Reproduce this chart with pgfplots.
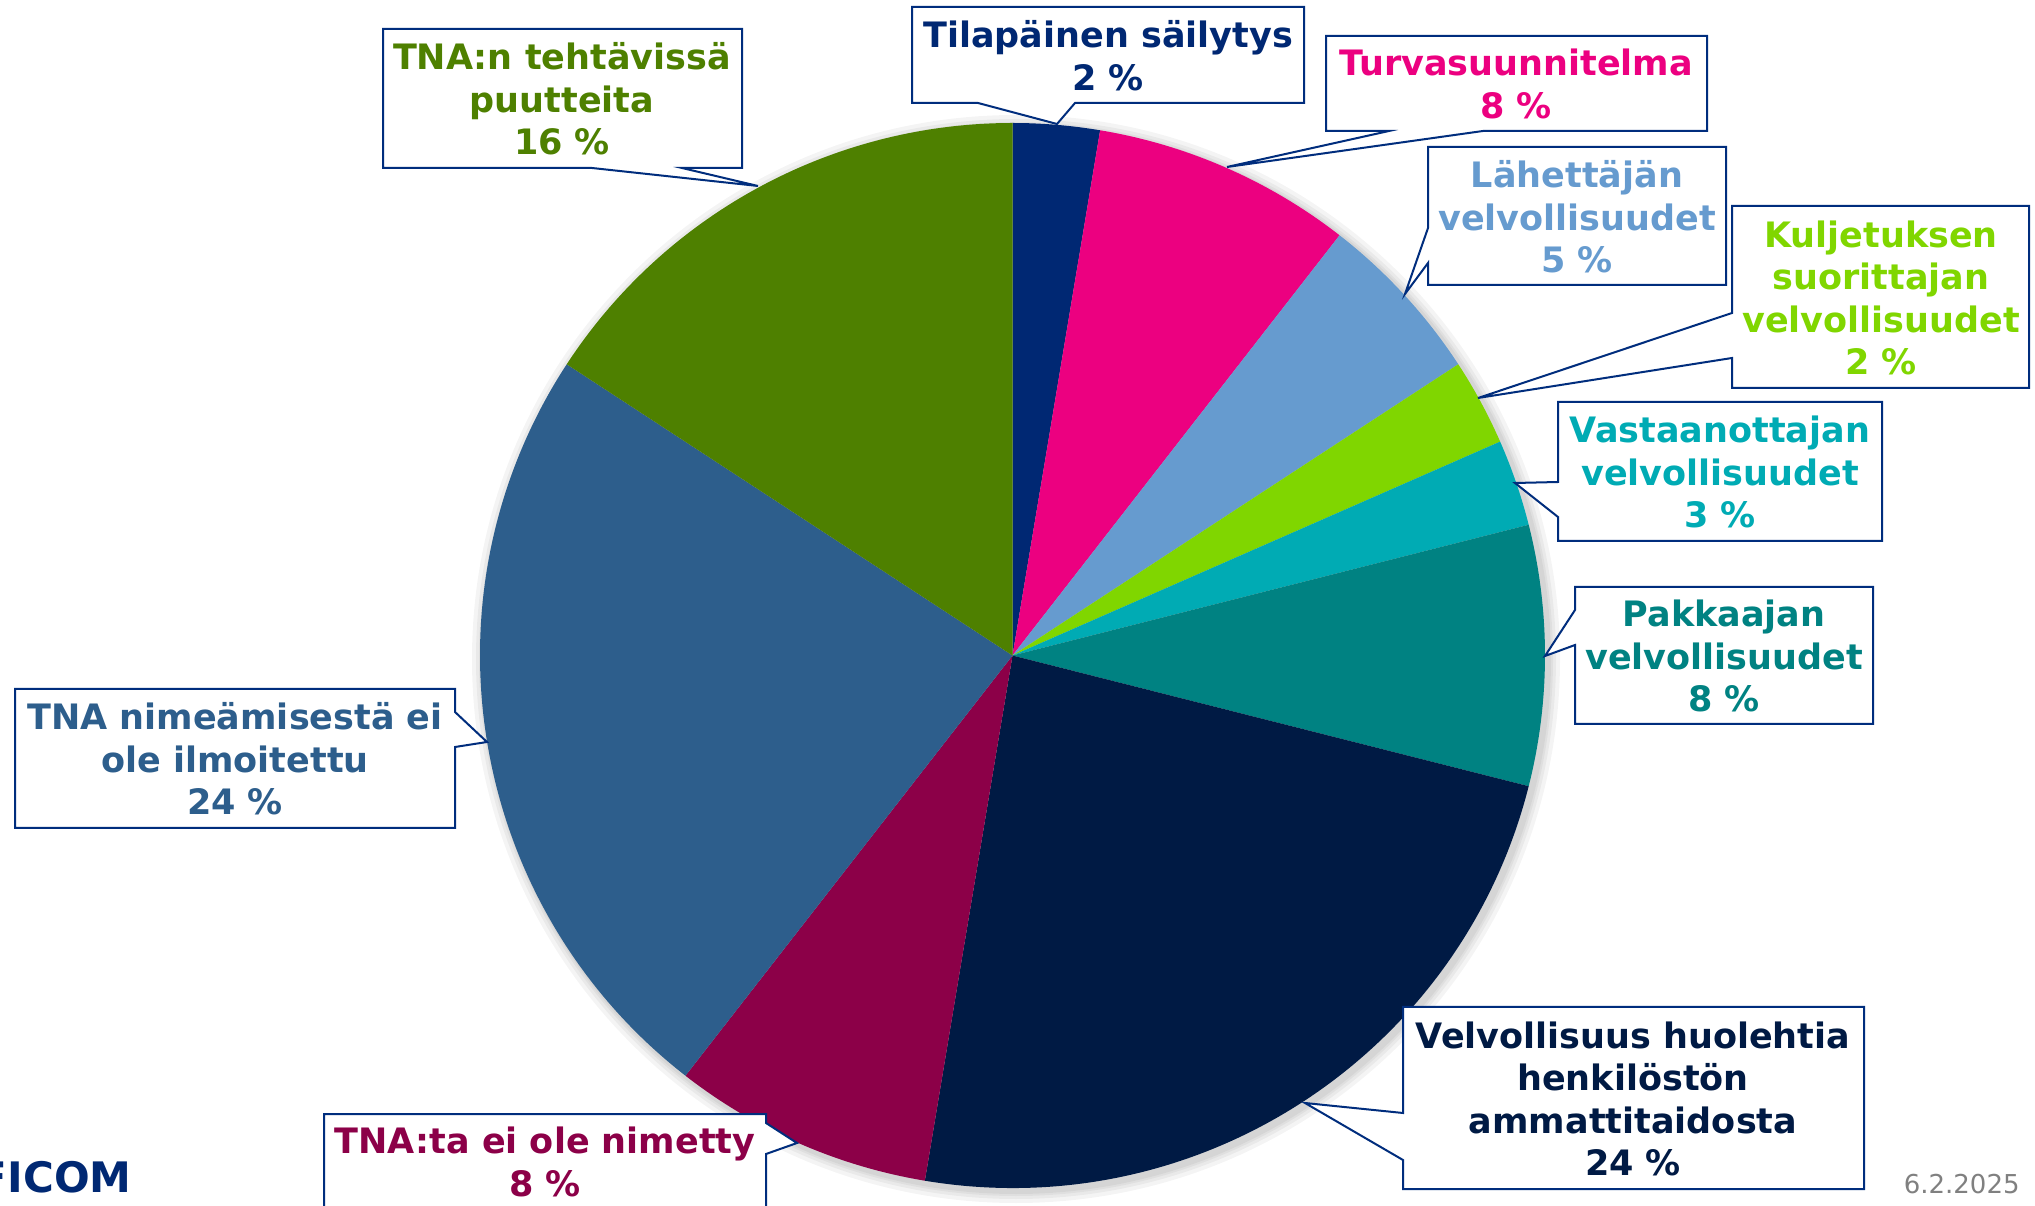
\documentclass[border=0pt]{standalone}
\usepackage{fontspec}
\setmainfont{DejaVu Sans}
\usepackage{pgfplots}
\pgfplotsset{compat=1.18}
\definecolor{c1}{RGB}{0,40,115}
\definecolor{c2}{RGB}{236,0,128}
\definecolor{c3}{RGB}{102,155,207}
\definecolor{c4}{RGB}{128,214,0}
\definecolor{c5}{RGB}{0,171,180}
\definecolor{c6}{RGB}{0,130,130}
\definecolor{c7}{RGB}{0,26,68}
\definecolor{c8}{RGB}{140,0,72}
\definecolor{c9}{RGB}{45,94,140}
\definecolor{c10}{RGB}{78,128,0}
\definecolor{boxc}{RGB}{0,45,125}
\definecolor{logoc}{RGB}{0,40,115}
% counts per category (total 38), clockwise from 12 o'clock
\def\total{38}
\newcommand{\slice}[3]{%
  \pgfmathsetmacro\sa{90-#1*360/\total}%
  \pgfmathsetmacro\sb{90-(#1+#2)*360/\total}%
  \edef\tmp{\noexpand\fill[#3] (1012.5,-655.5) -- ++(\sa:266.25pt) arc[start angle=\sa, end angle=\sb, radius=266.25pt] -- cycle;}%
  \tmp}
\newcommand{\lbl}[4]{\node[text=#3, align=center, font=\fontsize{17.5}{21.3}\selectfont\bfseries] at (#1,#2) {#4};}
\begin{document}
\begin{tikzpicture}
\useasboundingbox (0,0) rectangle (1017.5pt,602.5pt);
\begin{axis}[at={(0,0)}, anchor=south west, x=0.5pt, y=0.5pt,
  xmin=0, xmax=2035, ymin=-1205, ymax=0, hide axis, clip=false]
% soft shadow
\foreach \rr in {544,540,537,535}{
  \edef\tmp{\noexpand\fill[black, opacity=0.045] (1016,-659) circle[radius=\rr*0.5pt];}\tmp}
% slices: start count, count, colour
\slice{0}{1}{c1}
\slice{1}{3}{c2}
\slice{4}{2}{c3}
\slice{6}{1}{c4}
\slice{7}{1}{c5}
\slice{8}{3}{c6}
\slice{11}{9}{c7}
\slice{20}{3}{c8}
\slice{23}{9}{c9}
\slice{32}{6}{c10}
% callouts
\tikzset{cbox/.style={draw=boxc, fill=white, line width=1pt, line join=miter}}
\draw[cbox] (912,-7) -- (1304,-7) -- (1304,-103) -- (1075,-103) -- (1057,-124) -- (978,-103) -- (912,-103) -- cycle;
\lbl{1108}{-56}{c1}{Tilapäinen säilytys\\2 \%}
\draw[cbox] (1326,-36) -- (1707,-36) -- (1707,-131) -- (1483,-131) -- (1227,-167) -- (1389,-131) -- (1326,-131) -- cycle;
\lbl{1516}{-84}{c2}{Turvasuunnitelma\\8 \%}
\draw[cbox] (1428,-147) -- (1726,-147) -- (1726,-285) -- (1428,-285) -- (1428,-263) -- (1405,-294) -- (1428,-228) -- cycle;
\lbl{1577}{-217}{c3}{Lähettäjän\\velvollisuudet\\5 \%}
\draw[cbox] (1732,-206) -- (2029,-206) -- (2029,-388) -- (1732,-388) -- (1732,-358) -- (1478,-398) -- (1732,-313) -- cycle;
\lbl{1881}{-298}{c4}{Kuljetuksen\\suorittajan\\velvollisuudet\\2 \%}
\draw[cbox] (1558,-402) -- (1882,-402) -- (1882,-541) -- (1558,-541) -- (1558,-517) -- (1515,-483) -- (1558,-482) -- cycle;
\lbl{1720}{-472}{c5}{Vastaanottajan\\velvollisuudet\\3 \%}
\draw[cbox] (1575,-587) -- (1873,-587) -- (1873,-724) -- (1575,-724) -- (1575,-645) -- (1545,-656) -- (1575,-610) -- cycle;
\lbl{1724}{-656}{c6}{Pakkaajan\\velvollisuudet\\8 \%}
\draw[cbox] (1403,-1007) -- (1864,-1007) -- (1864,-1189) -- (1403,-1189) -- (1403,-1160) -- (1305,-1103) -- (1403,-1113) -- cycle;
\lbl{1633}{-1099}{c7}{Velvollisuus huolehtia\\henkilöstön\\ammattitaidosta\\24 \%}
\draw[cbox] (324,-1114) -- (766,-1114) -- (766,-1123) -- (797,-1143) -- (766,-1154) -- (766,-1220) -- (324,-1220) -- cycle;
\lbl{545}{-1162}{c8}{TNA:ta ei ole nimetty\\8 \%}
\draw[cbox] (15,-689) -- (455,-689) -- (455,-712) -- (487,-742) -- (455,-747) -- (455,-828) -- (15,-828) -- cycle;
\lbl{235}{-759}{c9}{TNA nimeämisestä ei\\ole ilmoitettu\\24 \%}
\draw[cbox] (383,-29) -- (742,-29) -- (742,-168) -- (682,-168) -- (758,-186) -- (592,-168) -- (383,-168) -- cycle;
\lbl{562}{-99}{c10}{TNA:n tehtävissä\\puutteita\\16 \%}
% footer
\node[anchor=base east, text=logoc, font=\fontsize{21}{21}\selectfont\bfseries, inner sep=0pt] at (132,-1192) {FICOM};
\node[anchor=base east, text=black!50, font=\fontsize{13}{13}\selectfont, inner sep=0pt] at (2020,-1193) {6.2.2025};
\end{axis}
\end{tikzpicture}
\end{document}
